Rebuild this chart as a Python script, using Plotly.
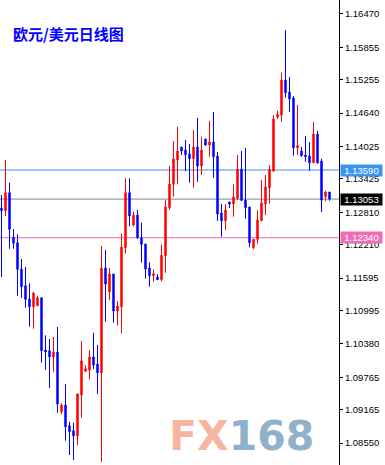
import plotly.graph_objects as go

title_text = "欧元/美元日线图"

opens = [1.12888, 1.12839, 1.13171, 1.12347, 1.12248, 1.11762, 1.11454, 1.11208, 1.11066, 1.11085,
         1.11232, 1.10267, 1.10254, 1.10138, 1.10230, 1.09128, 1.09252, 1.08870, 1.08777, 1.08685,
         1.09436, 1.09874, 1.09898, 1.10138, 1.10009, 1.09848, 1.11781, 1.11343, 1.11670, 1.10987,
         1.11066, 1.12156, 1.13171, 1.12575, 1.12759, 1.12340, 1.12224, 1.11781, 1.11639, 1.11615,
         1.11565, 1.12008, 1.12894, 1.13326, 1.13774, 1.14014, 1.13959, 1.13885, 1.13798, 1.14014,
         1.13664, 1.14162, 1.14051, 1.14107, 1.13848, 1.12796, 1.12654, 1.12999, 1.12962, 1.13067,
         1.13608, 1.13036, 1.12907, 1.12156, 1.12311, 1.12654, 1.12962, 1.13263, 1.13571, 1.14568,
         1.14605, 1.15251, 1.15030, 1.14919, 1.14002, 1.13941, 1.13867, 1.13848, 1.13725, 1.14254,
         1.13756, 1.13097, 1.13184]
highs = [1.13128, 1.13774, 1.13355, 1.12501, 1.12403, 1.11947, 1.11799, 1.11498, 1.11343, 1.11269,
         1.11232, 1.10538, 1.10470, 1.10507, 1.10692, 1.09283, 1.09639, 1.08943, 1.08925, 1.09468,
         1.10433, 1.09990, 1.10267, 1.10586, 1.10359, 1.12187, 1.12113, 1.11781, 1.11670, 1.11172,
         1.12421, 1.13437, 1.13437, 1.12820, 1.12851, 1.12617, 1.12224, 1.11886, 1.11757, 1.11670,
         1.12211, 1.13036, 1.13664, 1.14125, 1.14389, 1.14014, 1.14144, 1.14070, 1.14328, 1.14555,
         1.14205, 1.14162, 1.14494, 1.14661, 1.13922, 1.12962, 1.12962, 1.12999, 1.13326, 1.13867,
         1.13941, 1.13996, 1.12907, 1.12311, 1.12851, 1.13405, 1.13498, 1.13682, 1.14605, 1.14685,
         1.15386, 1.16174, 1.15307, 1.14956, 1.14790, 1.14014, 1.14217, 1.14107, 1.14481, 1.14310,
         1.13798, 1.13208, 1.13184]
lows = [1.11615, 1.12741, 1.12137, 1.12137, 1.11269, 1.11227, 1.11048, 1.10697, 1.10660, 1.11079,
        1.10033, 1.09898, 1.09566, 1.09866, 1.09110, 1.09086, 1.08593, 1.08329, 1.08236, 1.08513,
        1.09017, 1.09861, 1.09726, 1.09916, 1.09455, 1.08205, 1.10789, 1.11190, 1.10771, 1.10723,
        1.10575, 1.12052, 1.12556, 1.12547, 1.12316, 1.11879, 1.11583, 1.11436, 1.11528, 1.11565,
        1.11535, 1.11694, 1.12851, 1.13097, 1.13326, 1.13867, 1.13571, 1.13355, 1.13263, 1.13374,
        1.13498, 1.14033, 1.13835, 1.13442, 1.12654, 1.12359, 1.12482, 1.12888, 1.12728, 1.13036,
        1.13018, 1.12691, 1.12163, 1.12131, 1.12229, 1.12648, 1.12759, 1.12975, 1.13553, 1.14531,
        1.14481, 1.14925, 1.14661, 1.13854, 1.13867, 1.13835, 1.13743, 1.13577, 1.13719, 1.13701,
        1.12815, 1.13018, 1.13023]
closes = [1.12839, 1.13171, 1.12495, 1.12237, 1.11757, 1.11436, 1.11203, 1.11066, 1.11319, 1.11232,
          1.10254, 1.10230, 1.10143, 1.10230, 1.09270, 1.09252, 1.08851, 1.08759, 1.08685, 1.09455,
          1.10070, 1.09922, 1.10138, 1.09990, 1.09848, 1.11781, 1.11485, 1.11670, 1.10987, 1.11079,
          1.12168, 1.13171, 1.12741, 1.12755, 1.12340, 1.12218, 1.11762, 1.11639, 1.11676, 1.11565,
          1.12015, 1.12907, 1.13331, 1.13793, 1.13941, 1.13941, 1.13872, 1.13798, 1.14014, 1.13664,
          1.13959, 1.14051, 1.14107, 1.13835, 1.12778, 1.12654, 1.12851, 1.12962, 1.13091, 1.13608,
          1.13030, 1.12894, 1.12248, 1.12311, 1.12667, 1.12981, 1.13276, 1.13603, 1.14531, 1.14618,
          1.15251, 1.15017, 1.14900, 1.14002, 1.14038, 1.13854, 1.13835, 1.13725, 1.14254, 1.13725,
          1.13036, 1.13184, 1.13053]
bars = list(range(len(opens)))

tick_vals = [1.16470, 1.15855, 1.15255, 1.14640, 1.14025, 1.13425, 1.12810,
             1.12210, 1.11595, 1.10995, 1.10380, 1.09765, 1.09165, 1.08550]
tick_text = ["%.5f" % v for v in tick_vals]

level_values = [1.13590, 1.13053, 1.12340]
level_line_colors = ["#3d8fe6", "#778899", "#ee6fb2"]
level_box_colors = ["#3b95f0", "#000000", "#f06cb4"]

watermark_parts = ["FX", "168"]

fig = go.Figure()
fig.add_trace(go.Candlestick(
    x=bars, open=opens, high=highs, low=lows, close=closes,
    increasing=dict(line=dict(color="#ff0000", width=1), fillcolor="#ff0000"),
    decreasing=dict(line=dict(color="#0000ff", width=1), fillcolor="#0000ff"),
    whiskerwidth=0, hoverinfo="skip", showlegend=False,
))

shapes = []
annotations = []
for v, lc, bc in zip(level_values, level_line_colors, level_box_colors):
    shapes.append(dict(type="line", xref="paper", x0=0, x1=1, yref="y", y0=v, y1=v,
                       line=dict(color=lc, width=1), layer="below"))
    annotations.append(dict(xref="paper", x=1, xanchor="left", xshift=1,
                            yref="y", y=v, yanchor="middle",
                            text="%.5f" % v, showarrow=False,
                            bgcolor=bc, borderpad=0, width=41, height=11, align="center",
                            font=dict(family="Liberation Sans", size=9.5, color="#ffffff")))

annotations.append(dict(xref="paper", x=0, xanchor="left", xshift=11,
                        yref="paper", y=1, yanchor="top", yshift=-21,
                        text="<b>" + title_text + "</b>", showarrow=False,
                        font=dict(family="Noto Sans CJK SC", size=15, color="#0000ff")))

annotations.append(dict(xref="paper", x=167 / 339, xanchor="left",
                        yref="paper", y=1 - 436 / 465, yanchor="middle",
                        text="<b><span style='color:#f5b59e'>" + watermark_parts[0] +
                             "</span><span style='color:#8fb1c9'>" + watermark_parts[1] + "</span></b>",
                        showarrow=False,
                        font=dict(family="DejaVu Sans", size=41, color="#8fb1c9")))

fig.update_layout(
    width=385, height=465,
    margin=dict(l=0, r=46, t=0, b=0, pad=0),
    paper_bgcolor="#ffffff", plot_bgcolor="#ffffff",
    boxgap=0.5,
    shapes=shapes, annotations=annotations,
    xaxis=dict(visible=False, range=[-0.375, 84.375], rangeslider=dict(visible=False), fixedrange=True),
    yaxis=dict(side="right", range=[1.08145, 1.16728], tickmode="array",
               tickvals=tick_vals, ticktext=tick_text,
               showgrid=False, zeroline=False, showline=True, linecolor="#000000", linewidth=1,
               ticks="outside", ticklen=3, tickcolor="#000000", tickwidth=1,
               tickfont=dict(family="Liberation Sans", size=9.5, color="#000000")),
    showlegend=False,
)

fig.write_html("out.html")
